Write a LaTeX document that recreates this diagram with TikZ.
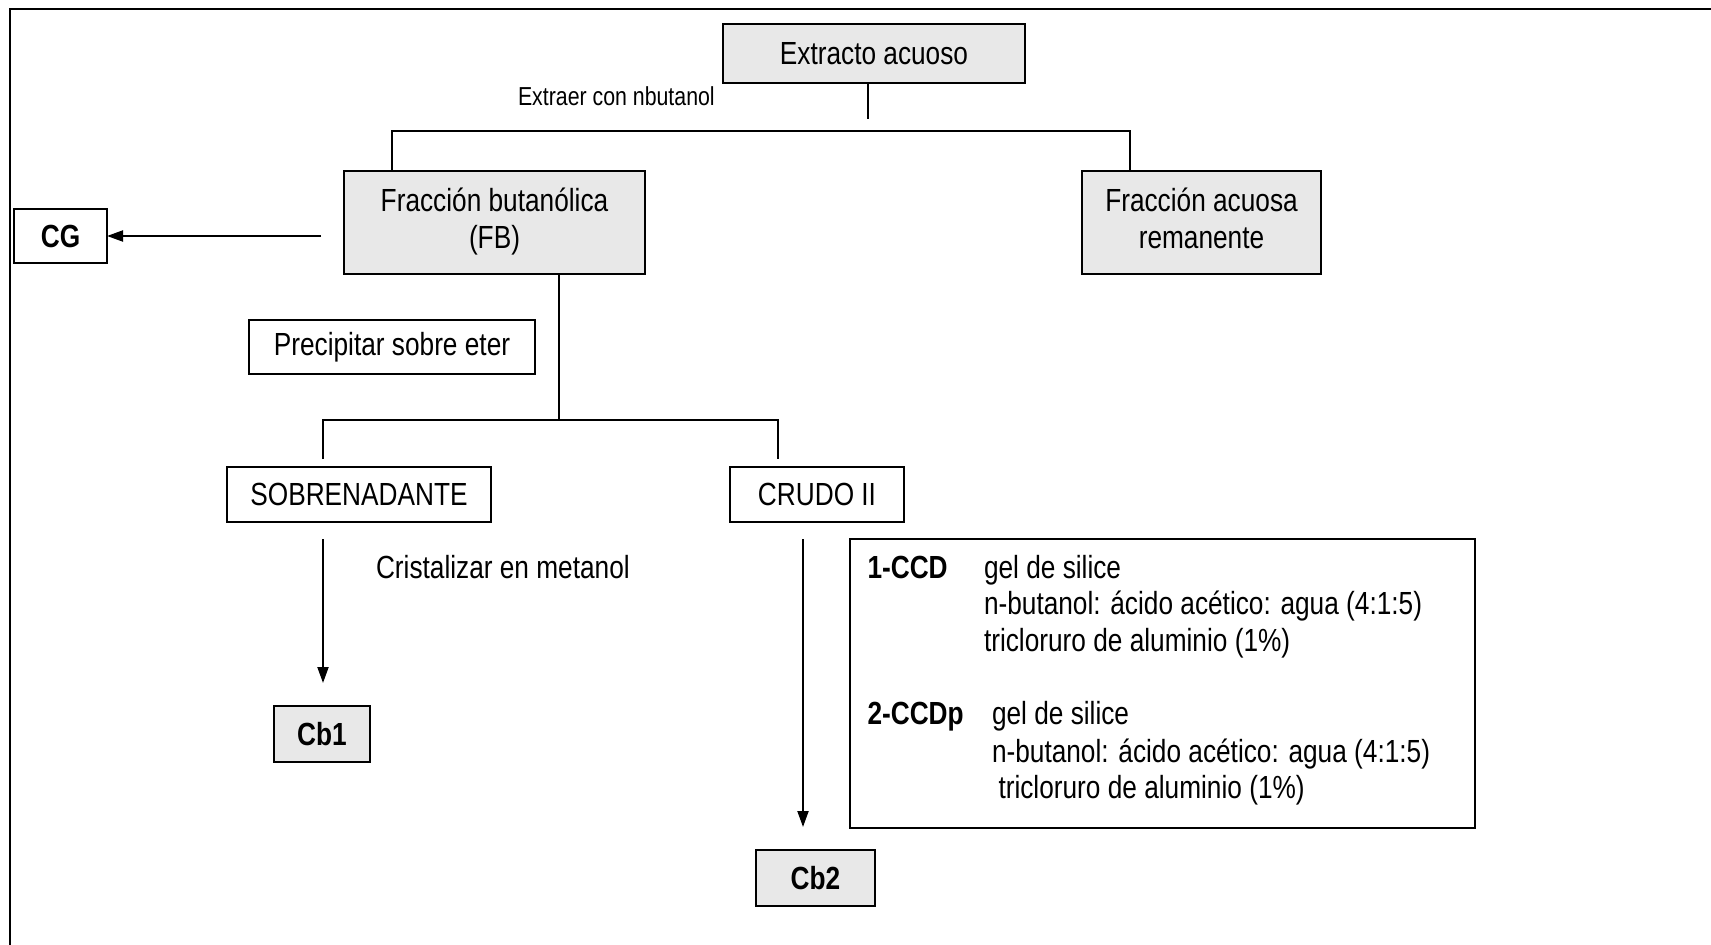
\documentclass[tikz,border=0pt]{standalone}
\usepackage{fontspec}
\setmainfont{Liberation Sans}[FakeStretch=0.82]
\usetikzlibrary{arrows.meta}
\definecolor{boxgray}{RGB}{232,232,232}
\begin{document}
\begin{tikzpicture}[x=1pt,y=-1pt,line width=2pt,
  base/.style={font=\fontsize{32}{37}\selectfont, inner sep=0pt, outer sep=0pt},
  smalltxt/.style={font=\fontsize{26}{30}\selectfont, inner sep=0pt, outer sep=0pt},
  whitebox/.style={base, draw, line width=2pt, fill=white, align=center},
  graybox/.style={base, draw, line width=2pt, fill=boxgray, align=center},
  boldtxt/.style={font=\fontsize{32}{37}\selectfont\bfseries},
  conn/.style={line width=2pt},
  arr/.style={line width=2pt, -{Triangle[length=16pt,width=11pt]}}]
\useasboundingbox (0,0) rectangle (1711,945);
% frame
\draw[line width=2.5pt] (10,945) -- (10,9) -- (1711,9);
% nodes
\node[graybox, minimum width=302, minimum height=59] (ex) at (874,53.5) {Extracto acuoso};
\node[smalltxt, anchor=base west] (ecn) at (518,105) {Extraer con nbutanol};
\node[graybox, minimum width=301, minimum height=103] (fb) at (494.5,222) {Fracción butanólica\\(FB)};
\node[graybox, minimum width=239, minimum height=103] (fa) at (1201.5,222) {Fracción acuosa\\remanente\vphantom{(}};
\node[whitebox, minimum width=93, minimum height=54, boldtxt] (cg) at (60.5,236) {CG};
\node[whitebox, minimum width=286, minimum height=54] (pre) at (392,347) {Precipitar sobre eter};
\node[whitebox, minimum width=264, minimum height=55] (sob) at (359,494.5) {SOBRENADANTE};
\node[whitebox, minimum width=173.5, minimum height=55] (cru) at (817,494.5) {CRUDO II};
\node[base, anchor=base west] (cri) at (376,578) {Cristalizar en metanol};
\node[graybox, minimum width=96, minimum height=56, boldtxt] (cb1) at (322,734) {Cb1};
\node[graybox, minimum width=119, minimum height=56, boldtxt] (cb2) at (815.5,878) {Cb2};
\node[whitebox, minimum width=625, minimum height=289] (big) at (1162.5,683.5) {};
% text inside big box
\node[base, boldtxt, anchor=base west] (t1) at (867.5,578) {1-CCD};
\node[base, anchor=base west] (t1a) at (984,578) {gel de silice};
\node[base, anchor=base west] (t1b) at (984,614) {n-butanol: ácido acético: agua (4:1:5)};
\node[base, anchor=base west] (t1c) at (984,651.5) {tricloruro de aluminio (1\%)};
\node[base, boldtxt, anchor=base west] (t2) at (867.5,724.5) {2-CCDp};
\node[base, anchor=base west] (t2a) at (992,724.5) {gel de silice};
\node[base, anchor=base west] (t2b) at (992,762) {n-butanol: ácido acético: agua (4:1:5)};
\node[base, anchor=base west] (t2c) at (998.5,798.5) {tricloruro de aluminio (1\%)};
% coordinates
\coordinate (e2) at (867.5,119);
\coordinate (h1) at (392,130.5);
\coordinate (h2) at (1130,130.5);
\coordinate (c1) at (321,236);
\coordinate (j) at (559,419.5);
\coordinate (l1) at (323,419.5);
\coordinate (l2) at (323,459);
\coordinate (r1) at (778,419.5);
\coordinate (r2) at (778,459);
\coordinate (s1) at (323,539);
\coordinate (s2) at (323,683);
\coordinate (k1) at (803,539);
\coordinate (k2) at (803,827);
% connectors
\draw[conn] (ex.south -| e2) -- (e2);
\draw[conn] (fb.north -| h1) -- (h1) -- (h2) -- (fa.north -| h2);
\draw[arr] (c1) -- (cg.east);
\draw[conn] (fb.south -| j) -- (j);
\draw[conn] (l2) -- (l1) -- (r1) -- (r2);
\draw[arr] (s1) -- (s2);
\draw[arr] (k1) -- (k2);
\end{tikzpicture}
\end{document}
